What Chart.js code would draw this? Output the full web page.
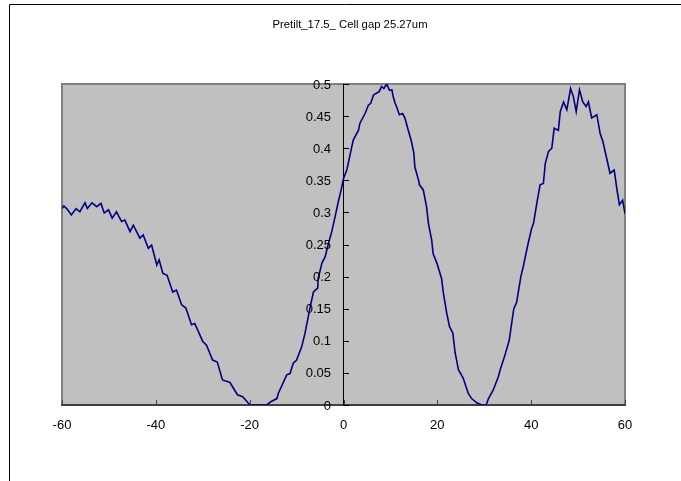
<!DOCTYPE html>
<html>
<head>
<meta charset="utf-8">
<script src="https://cdn.jsdelivr.net/npm/chart.js@4/dist/chart.umd.min.js"></script>
<style>
html,body{margin:0;padding:0;background:#fff;}
#wrap{position:relative;width:681px;height:481px;}
</style>
</head>
<body>
<div id="wrap"><canvas id="c" width="681" height="481"></canvas></div>
<script>
const titleText = "Pretilt_17.5_ Cell gap 25.27um";
const xTicks = [-60, -40, -20, 0, 20, 40, 60];
const yTicks = [0, 0.05, 0.1, 0.15, 0.2, 0.25, 0.3, 0.35, 0.4, 0.45, 0.5];

const angle = [
 -60, -59.6, -59.0, -58.0, -57.0, -56.2, -55.1, -54.6, -53.6, -52.6, -51.7, -51.0, -50.1, -49.3, -48.4, -47.3, -46.6, -45.5, -44.8, -43.4,
 -42.7, -41.6, -40.9, -39.8, -39.3, -38.5, -37.6, -36.4, -35.6, -34.5, -33.6, -32.4, -31.7, -30.0, -29.2, -27.9, -26.9, -25.8, -24.2, -22.6,
 -21.5, -20.3, -19.9, -16.4, -15.5, -14.2, -13.9, -12.1, -11.4, -10.7, -10.0, -8.9, -8.2, -7.5, -7.1, -6.4, -5.5, -5.4, -4.6, -3.9,
 -3.2, -2.5, -1.8, -1.1, -0.5, 0, 0.7, 1.0, 1.7, 2.1, 3.2, 3.5, 4.6, 5.3, 5.8, 6.4, 7.1, 7.6, 8.1, 8.6,
 9.2, 9.8, 10.3, 10.6, 11.0, 11.3, 11.9, 12.6, 13.1, 13.8, 14.5, 15.0, 15.2, 16.0, 16.2, 17.0, 17.7, 18.1, 18.8, 19.1,
 19.9, 20.9, 21.3, 22.0, 22.6, 23.3, 23.8, 24.5, 25.5, 26.6, 27.3, 28.5, 29.5, 30.4, 30.9, 31.9, 33.0, 33.4, 34.3, 35.3,
 36.3, 36.9, 37.8, 38.3, 39.3, 40.1, 40.5, 41.2, 41.9, 42.6, 43.0, 43.7, 44.4, 44.9, 45.8, 46.2, 46.9, 47.6, 48.4, 49.0,
 49.6, 50.3, 51.0, 51.7, 52.2, 52.9, 54.0, 54.7, 55.3, 56.1, 56.8, 57.7, 58.3, 58.8, 59.5, 60.0
];
const intensity = [
 0.306, 0.310, 0.306, 0.296, 0.306, 0.301, 0.315, 0.306, 0.315, 0.309, 0.314, 0.299, 0.304, 0.291, 0.301, 0.286, 0.288, 0.270, 0.280, 0.260,
 0.265, 0.244, 0.249, 0.218, 0.226, 0.205, 0.202, 0.176, 0.179, 0.156, 0.151, 0.125, 0.127, 0.099, 0.093, 0.070, 0.067, 0.039, 0.035, 0.016,
 0.013, 0.003, 0.000, 0.000, 0.005, 0.010, 0.018, 0.047, 0.049, 0.065, 0.070, 0.091, 0.112, 0.138, 0.153, 0.176, 0.182, 0.197, 0.221, 0.231,
 0.252, 0.270, 0.293, 0.317, 0.335, 0.353, 0.366, 0.376, 0.400, 0.413, 0.428, 0.439, 0.454, 0.467, 0.470, 0.483, 0.486, 0.488, 0.496, 0.493,
 0.500, 0.490, 0.491, 0.480, 0.470, 0.465, 0.452, 0.454, 0.447, 0.428, 0.410, 0.392, 0.371, 0.350, 0.343, 0.335, 0.309, 0.283, 0.257, 0.236,
 0.221, 0.197, 0.174, 0.143, 0.122, 0.112, 0.081, 0.055, 0.042, 0.018, 0.010, 0.003, 0.000, 0.000, 0.010, 0.023, 0.044, 0.055, 0.075, 0.100,
 0.150, 0.160, 0.200, 0.215, 0.250, 0.275, 0.283, 0.314, 0.343, 0.345, 0.376, 0.395, 0.400, 0.431, 0.428, 0.457, 0.472, 0.460, 0.493, 0.480,
 0.457, 0.491, 0.472, 0.465, 0.472, 0.447, 0.452, 0.423, 0.410, 0.384, 0.361, 0.366, 0.335, 0.312, 0.319, 0.298
];

const points = angle.map((a, i) => ({x: a, y: intensity[i]}));
const FONT = "'Liberation Sans', Arial, sans-serif";

const decor = {
  id: 'decor',
  beforeDraw(chart) {
    const ctx = chart.ctx, a = chart.chartArea;
    ctx.save();
    ctx.fillStyle = '#fff';
    ctx.fillRect(0, 0, chart.width, chart.height);
    ctx.strokeStyle = '#000';
    ctx.lineWidth = 1;
    ctx.beginPath();
    ctx.moveTo(9.5, 481); ctx.lineTo(9.5, 4.5); ctx.lineTo(681, 4.5);
    ctx.stroke();
    ctx.fillStyle = '#C0C0C0';
    ctx.fillRect(a.left, a.top, a.right - a.left, a.bottom - a.top);
    ctx.strokeStyle = '#808080';
    ctx.lineWidth = 2;
    ctx.beginPath();
    ctx.moveTo(a.left, a.bottom); ctx.lineTo(a.left, a.top); ctx.lineTo(a.right, a.top); ctx.lineTo(a.right, a.bottom);
    ctx.stroke();
    ctx.fillStyle = '#000';
    ctx.font = '11.3px ' + FONT;
    ctx.textAlign = 'center';
    ctx.textBaseline = 'middle';
    ctx.fillText(titleText, 350, 25);
    ctx.restore();
  },
  afterDatasetsDraw(chart) {
    const ctx = chart.ctx, a = chart.chartArea;
    const xs = chart.scales.x, ys = chart.scales.y;
    ctx.save();
    ctx.lineWidth = 1;
    ctx.strokeStyle = '#404040';
    ctx.beginPath();
    xTicks.forEach(v => {
      const px = Math.round(xs.getPixelForValue(v)) + 0.5;
      ctx.moveTo(px, a.bottom); ctx.lineTo(px, a.bottom - 5);
    });
    ctx.stroke();
    ctx.strokeStyle = '#000';
    const x0 = Math.round(xs.getPixelForValue(0));
    ctx.beginPath();
    yTicks.forEach(v => {
      const py = Math.round(ys.getPixelForValue(v)) + 0.5;
      ctx.moveTo(x0, py); ctx.lineTo(x0 + 5, py);
    });
    ctx.stroke();
    // y tick labels, left of the centred axis
    ctx.fillStyle = '#000';
    ctx.font = '13px ' + FONT;
    ctx.textAlign = 'right';
    ctx.textBaseline = 'middle';
    yTicks.forEach(v => {
      ctx.fillText(String(+v.toFixed(2)), x0 - 13, ys.getPixelForValue(v) + 1);
    });
    ctx.restore();
  }
};

new Chart(document.getElementById('c'), {
  type: 'scatter',
  data: {
    datasets: [{
      data: points,
      showLine: true,
      borderColor: '#000080',
      borderWidth: 1.6,
      pointRadius: 0,
      tension: 0,
      fill: false
    }]
  },
  options: {
    responsive: false,
    animation: false,
    devicePixelRatio: 1,
    layout: {padding: {left: 62, right: 56, top: 84, bottom: 0}},
    plugins: {legend: {display: false}, title: {display: false}, tooltip: {enabled: false}},
    scales: {
      x: {
        type: 'linear', min: -60, max: 60,
        afterBuildTicks: s => { s.ticks = xTicks.map(v => ({value: v})); },
        afterFit: s => { s.height = 76; },
        grid: {display: false, drawTicks: false},
        border: {display: true, color: '#404040', width: 2},
        ticks: {color: '#000', font: {family: FONT, size: 13}, padding: 13, maxRotation: 0, autoSkip: false}
      },
      y: {
        type: 'linear', min: 0, max: 0.5,
        position: {x: 0},
        afterBuildTicks: s => { s.ticks = yTicks.map(v => ({value: v})); },
        grid: {display: false, drawTicks: false},
        border: {display: true, color: '#000', width: 1},
        ticks: {display: false}
      }
    }
  },
  plugins: [decor]
});
</script>
</body>
</html>
